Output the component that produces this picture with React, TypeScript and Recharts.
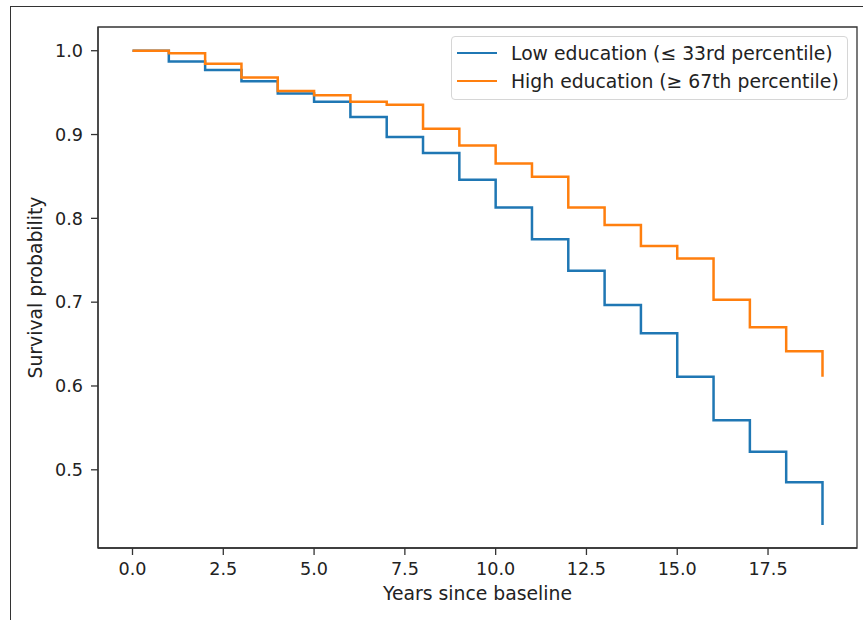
import React from "react";
import {
  LineChart,
  Line,
  XAxis,
  YAxis,
  ReferenceArea,
  Label,
} from "recharts";

// Kaplan-Meier estimates, one value per year (step starts at that year)
const YEARS = [0, 1, 2, 3, 4, 5, 6, 7, 8, 9, 10, 11, 12, 13, 14, 15, 16, 17, 18, 19];
const LOW_EDU = [
  1.0, 0.987, 0.977, 0.9635, 0.949, 0.939, 0.921, 0.897, 0.878, 0.846,
  0.813, 0.775, 0.7375, 0.6965, 0.663, 0.611, 0.559, 0.5215, 0.485, 0.434,
];
const HIGH_EDU = [
  1.0, 0.997, 0.9845, 0.968, 0.952, 0.947, 0.939, 0.9355, 0.907, 0.887,
  0.8655, 0.8495, 0.813, 0.792, 0.767, 0.752, 0.703, 0.67, 0.6415, 0.611,
];
const X_TICKS = [0, 2.5, 5, 7.5, 10, 12.5, 15, 17.5];
const Y_TICKS = [0.5, 0.6, 0.7, 0.8, 0.9, 1.0];

const SERIES = [
  { key: "low", name: "Low education (\u2264 33rd percentile)", color: "#1f77b4" },
  { key: "high", name: "High education (\u2265 67th percentile)", color: "#ff7f0e" },
];

const X_DOMAIN: [number, number] = [-0.95, 19.95];
const Y_DOMAIN: [number, number] = [0.4067, 1.0283];

const FONT = "'DejaVu Sans', sans-serif";
const INK = "#222";
const TICK_SIZE = 17.6;
const LABEL_SIZE = 18.8;

const data = YEARS.map((t, i) => ({ t, low: LOW_EDU[i], high: HIGH_EDU[i] }));

function LegendBox() {
  return (
    <div
      style={{
        position: "absolute",
        left: 451,
        top: 36,
        width: 390,
        border: "1px solid #d6d6d6",
        borderRadius: 4,
        background: "rgba(255,255,255,0.85)",
        padding: "2px 0 4px 5px",
        fontFamily: FONT,
        fontSize: LABEL_SIZE,
        color: INK,
      }}
    >
      {SERIES.map((s) => (
        <div key={s.key} style={{ display: "flex", alignItems: "center", height: 28 }}>
          <div style={{ width: 40, height: 2.5, background: s.color, marginRight: 14 }} />
          <span style={{ whiteSpace: "nowrap" }}>{s.name}</span>
        </div>
      ))}
    </div>
  );
}

export default function App() {
  return (
    <div
      style={{
        position: "absolute",
        left: 0,
        top: 0,
        width: 863,
        height: 620,
        background: "#fff",
        overflow: "hidden",
      }}
    >
      <div
        style={{
          position: "absolute",
          left: 10,
          top: 6,
          width: 900,
          height: 700,
          borderLeft: "1.5px solid #333",
          borderTop: "1.5px solid #333",
        }}
      />
      <LineChart
        width={863}
        height={620}
        data={data}
        margin={{ top: 27, right: 6, bottom: 0, left: 0 }}
      >
        <ReferenceArea
          x1={X_DOMAIN[0]}
          x2={X_DOMAIN[1]}
          y1={Y_DOMAIN[0]}
          y2={Y_DOMAIN[1]}
          fill="none"
          stroke="#333"
          strokeWidth={1.3}
          ifOverflow="extendDomain"
        />
        <XAxis
          dataKey="t"
          type="number"
          domain={X_DOMAIN}
          ticks={X_TICKS}
          allowDataOverflow
          height={72}
          axisLine={{ stroke: "#333", strokeWidth: 1.3 }}
          tickLine={{ stroke: "#333", strokeWidth: 1.3 }}
          tickSize={7}
          tickMargin={8}
          tickFormatter={(v: number) => v.toFixed(1)}
          tick={{ fill: INK, fontSize: TICK_SIZE, fontFamily: FONT }}
        >
          <Label
            value="Years since baseline"
            position="insideBottom"
            offset={20}
            style={{ fill: INK, fontSize: LABEL_SIZE, fontFamily: FONT }}
          />
        </XAxis>
        <YAxis
          type="number"
          domain={Y_DOMAIN}
          ticks={Y_TICKS}
          allowDataOverflow
          width={98}
          axisLine={{ stroke: "#333", strokeWidth: 1.3 }}
          tickLine={{ stroke: "#333", strokeWidth: 1.3 }}
          tickSize={7}
          tickMargin={8}
          tickFormatter={(v: number) => v.toFixed(1)}
          tick={{ fill: INK, fontSize: TICK_SIZE, fontFamily: FONT }}
        >
          <Label
            content={(props: any) => {
              const vb = props.viewBox || { x: 0, y: 27, width: 98, height: 521 };
              const cx = vb.x + 35;
              const cy = vb.y + vb.height / 2;
              return (
                <text
                  x={cx}
                  y={cy}
                  transform={`rotate(-90 ${cx} ${cy})`}
                  textAnchor="middle"
                  dominantBaseline="central"
                  style={{ fill: INK, fontSize: LABEL_SIZE, fontFamily: FONT }}
                >
                  Survival probability
                </text>
              );
            }}
          />
        </YAxis>
        {SERIES.map((s) => (
          <Line
            key={s.key}
            type="stepAfter"
            dataKey={s.key}
            name={s.name}
            stroke={s.color}
            strokeWidth={2.5}
            dot={false}
            isAnimationActive={false}
          />
        ))}
      </LineChart>
      <LegendBox />
    </div>
  );
}
